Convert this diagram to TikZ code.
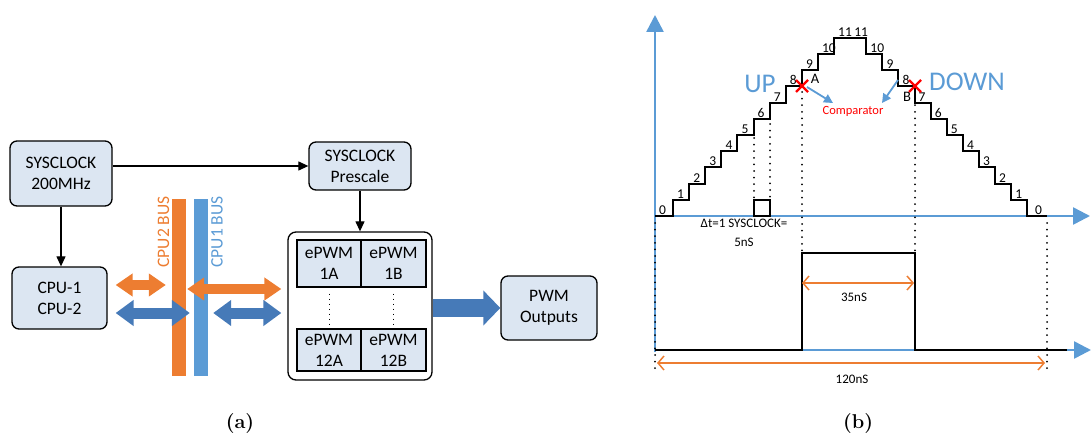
\documentclass[tikz,border=0pt]{standalone}
\usepackage{fontspec}
\newfontfamily\calibri{Carlito}
\usetikzlibrary{arrows.meta}

\definecolor{boxfill}{RGB}{220,230,242}
\definecolor{busorange}{RGB}{237,125,49}
\definecolor{busblue}{RGB}{91,155,213}
\definecolor{arrblue}{RGB}{70,122,184}
\definecolor{markred}{RGB}{255,0,0}

\tikzset{
  blk/.style={draw, line width=1.3pt, rounded corners=7pt, fill=boxfill, align=center,
    inner sep=0pt, font=\calibri\fontsize{17.5}{21}\selectfont},
  cell/.style={draw, line width=1.3pt, fill=boxfill, align=center,
    inner sep=0pt, font=\calibri\fontsize{17.5}{21}\selectfont},
  conn/.style={line width=1.2pt, -{Triangle[length=10pt,width=9pt]}},
  busbar/.style={draw=none, inner sep=0pt, minimum width=14pt, minimum height=177pt},
  buslbl/.style={rotate=90, inner sep=0pt, font=\calibri\fontsize{17.5}{21}\selectfont},
  fatorange/.style={busorange, line width=10pt,
    {Triangle[length=17pt,width=22pt]}-{Triangle[length=17pt,width=22pt]}},
  fatblue/.style={arrblue, line width=11pt,
    {Triangle[length=18pt,width=25pt]}-{Triangle[length=18pt,width=25pt]}},
  axisline/.style={busblue, line width=2.5pt, -{Triangle[length=17pt,width=17pt]}},
  stair/.style={line width=2pt, line join=miter},
  dotline/.style={line width=2pt, line cap=round, dash pattern=on 0pt off 6.6pt},
  dimline/.style={busorange, line width=1.5pt,
    {Straight Barb[length=6pt,width=14pt]}-{Straight Barb[length=6pt,width=14pt]}},
  lvl/.style={inner sep=0pt, anchor=base west, font=\calibri\fontsize{13.5}{15}\selectfont},
  note/.style={inner sep=0pt, anchor=base, font=\calibri\fontsize{13}{16}\selectfont},
  cmparrow/.style={busblue, line width=1.8pt, -{Triangle[length=9pt,width=9pt]}},
  xmark/.style={markred, line width=2.2pt},
  subcap/.style={inner sep=0pt, font=\fontsize{20}{22}\selectfont\bfseries}
}

\begin{document}
\begin{tikzpicture}[x=1pt, y=-1pt]
    \useasboundingbox (0,0) rectangle (1091,433);

    % ---------- (a) clocking and buses ----------
    \node[blk, minimum width=102pt, minimum height=65pt] (sysclk) at (61,173.5) {SYSCLOCK\\200MHz};
    \node[blk, minimum width=95pt, minimum height=62pt] (cpu) at (59.5,298) {CPU-1\\CPU-2};
    \node[blk, minimum width=102pt, minimum height=48pt] (pre) at (360,166) {SYSCLOCK\\Prescale};

    % ePWM group
    \node[blk, fill=white, rounded corners=8pt, minimum width=144pt, minimum height=148pt] (pwmgrp) at (360,306) {};
    \node[cell, minimum width=64pt, minimum height=47pt] (e1a) at (329,263.5) {ePWM\\1A};
    \node[cell, minimum width=65pt, minimum height=47pt] (e1b) at (393.5,263.5) {ePWM\\1B};
    \node[cell, minimum width=64pt, minimum height=42pt] (e12a) at (329,350) {ePWM\\12A};
    \node[cell, minimum width=65pt, minimum height=42pt] (e12b) at (393.5,350) {ePWM\\12B};
    \draw[line width=1pt, dash pattern=on 1pt off 4pt] (e1a.south) ++(0,6) -- (e12a.north);
    \draw[line width=1pt, dash pattern=on 1pt off 4pt] (e1b.south) ++(0,6) -- (e12b.north);

    \node[blk, minimum width=96pt, minimum height=64pt] (out) at (549,308) {PWM\\Outputs};

    % Buses
    \node[busbar, fill=busorange] (cpu2bus) at (179,287.5) {};
    \node[busbar, fill=busblue] (cpu1bus) at (201,287.5) {};
    \node[buslbl, text=busorange] (cpu2lbl) at (163.5,232) {CPU2 BUS};
    \node[buslbl, text=busblue] (cpu1lbl) at (217,232) {CPU1 BUS};

    % Clock connectors
    \draw[conn] (sysclk.south) -- (sysclk.south |- cpu.north);
    \draw[conn] (sysclk.east |- pre.west) -- (pre.west);
    \draw[conn] (pre) -- (pwmgrp);
    \draw[arrblue, line width=18pt, -{Triangle[length=17pt,width=34pt]}] (pwmgrp.east |- out.west) -- (out.west);

    % Bus traffic
    \coordinate (o1) at ([yshift=13pt]cpu.east);
    \coordinate (b1) at ([yshift=-15pt]cpu.east);
    \coordinate (o2) at ([yshift=17pt]pwmgrp.west);
    \coordinate (b2) at ([yshift=-7pt]pwmgrp.west);
    \draw[fatorange, shorten <=8pt, shorten >=6pt] (o1) -- (o1 -| cpu2bus.west);
    \draw[fatblue, shorten <=8pt, shorten >=4pt] (b1) -- (b1 -| cpu1bus.west);
    \draw[fatorange, shorten <=1pt, shorten >=6pt] (o2 -| cpu2bus.east) -- (o2);
    \draw[fatblue, shorten <=5pt, shorten >=6pt] (b2 -| cpu1bus.east) -- (b2);

    \node[subcap] (capa) at (240,424) {(a)};

    % ---------- (b) up-down counter and PWM ----------
    % Axes
    \draw[axisline] (655,352) -- (655,15);
    \draw[axisline] (654,216) -- (1090,216);
    \draw[axisline] (654,350) -- (1091,350);

    % Dotted guides
    \draw[dotline] (754,138) -- (754,199);
    \draw[dotline] (770,124) -- (770,199);
    \draw[dotline] (802,92) -- (802,252);
    \draw[dotline] (915,92) -- (915,252);
    \draw[dotline] (655,223) -- (655,372);
    \draw[dotline] (1047,223) -- (1047,372);

    % Counter staircase
    \draw[stair] (655,216) -- (673,216)
        \foreach \k in {1,...,10} { -- ++(0,-16.2) -- ++(16.1,0) }
        -- ++(0,-16.2) -- ++(32.2,0)
        \foreach \k in {1,...,10} { -- ++(0,16.2) -- ++(16.1,0) }
        -- ++(0,16.2) -- (1047,216);

    % Counter values
    \node[lvl] (up0) at (659,214.5) {0};
    \foreach \k in {1,...,11} {
        \node[lvl] (up\k) at ({673+(\k-1)*16.1+4}, {216-16.2*\k-1.5}) {\k};
        \node[lvl] (dn\k) at ({866.2+(10-\k)*16.1+4}, {216-16.2*\k-1.5}) {\k};
    }
    \node[lvl] (dn0) at (1035,214.5) {0};

    % One clock tick
    \draw[line width=2pt] (754,200) rectangle (770,216);
    \node[note] (dt) at (744,227) {Δt=1 SYSCLOCK=};
    \node[note] (dtv) at (744,246) {5nS};

    % Compare events
    \coordinate (ptA) at (802,86);
    \coordinate (ptB) at (915,86);
    \draw[xmark] (ptA) +(-6,-6) -- +(6,6) +(-6,6) -- +(6,-6);
    \draw[xmark] (ptB) +(-6,-6) -- +(6,6) +(-6,6) -- +(6,-6);
    \node[inner sep=0pt, anchor=base, font=\calibri\fontsize{14.5}{16}\selectfont] (lblA) at (815,84) {A};
    \node[inner sep=0pt, anchor=base, font=\calibri\fontsize{14.5}{16}\selectfont] (lblB) at (907,102) {B};
    \node[inner sep=0pt, anchor=base, text=busblue, font=\calibri\fontsize{27}{30}\selectfont] (upL) at (760,93) {UP};
    \node[inner sep=0pt, anchor=base, text=busblue, font=\calibri\fontsize{27}{30}\selectfont] (downL) at (967,91) {DOWN};
    \node[note, text=markred, font=\calibri\fontsize{12.5}{15}\selectfont] (cmp) at (853,114) {Comparator};
    \draw[cmparrow] ([shift={(5,1)}]ptA) -- ([shift={(-20,-11)}]cmp.base);
    \draw[cmparrow] ([shift={(-17,-6)}]ptB) -- ([shift={(29,-11)}]cmp.base);

    % PWM output
    \draw[line width=2.2pt] (655,350) -| (802,253) -| (915,350) -- (1067,350);
    \draw[dimline] (802,283) -- (914,283);
    \node[note] (ton) at (854,301) {35nS};
    \draw[dimline] (657,363) -- (1045,363);
    \node[note] (tper) at (852,383) {120nS};

    \node[subcap] (capb) at (858,424) {(b)};
\end{tikzpicture}
\end{document}
